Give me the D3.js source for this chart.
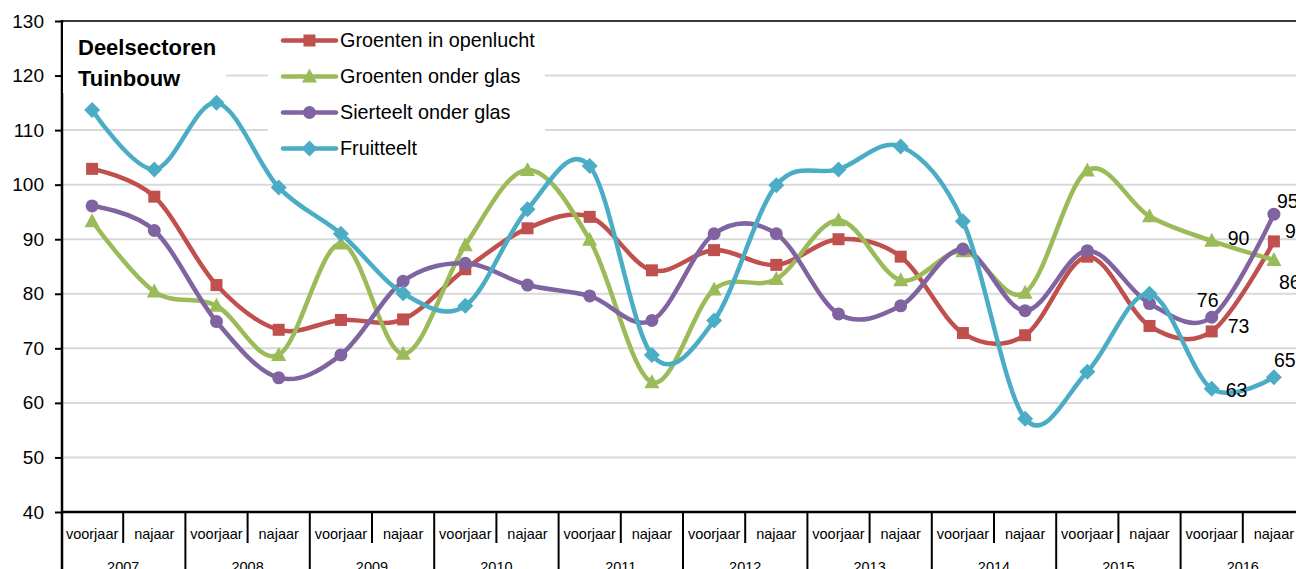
<!DOCTYPE html>
<html>
<head>
<meta charset="utf-8">
<script src="https://cdn.jsdelivr.net/npm/d3@7/dist/d3.min.js"></script>
<style>
  html, body { margin: 0; padding: 0; background: #fff; }
  svg { display: block; font-family: "Liberation Sans", Arial, sans-serif; }
</style>
</head>
<body>
<div id="chart"></div>
<script>
// categories: 10 years, two seasons each
var years = ['2007', '2008', '2009', '2010', '2011', '2012', '2013', '2014', '2015', '2016'];
var seasons = ['voorjaar', 'najaar'];
var yTicks = [40, 50, 60, 70, 80, 90, 100, 110, 120, 130];

// series values
var groentenOpenlucht = [102.9, 97.8, 81.6, 73.4, 75.2, 75.3, 84.5, 92.0, 94.1, 84.3,
                         88.0, 85.3, 90.0, 86.8, 72.8, 72.4, 86.8, 74.1, 73.1, 89.6];
var groentenGlas      = [93.3, 80.4, 77.8, 68.8, 89.2, 69.0, 88.9, 102.7, 89.9, 63.8,
                         80.8, 82.7, 93.5, 82.5, 87.8, 80.2, 102.6, 94.2, 89.7, 86.2];
var sierteeltGlas     = [96.1, 91.6, 74.9, 64.6, 68.8, 82.3, 85.6, 81.6, 79.6, 75.1,
                         91.0, 91.0, 76.3, 77.8, 88.2, 76.9, 87.9, 78.2, 75.7, 94.6];
var fruitteelt        = [113.7, 102.8, 115.0, 99.5, 91.0, 80.1, 77.8, 95.5, 103.4, 68.8,
                         75.1, 99.9, 102.8, 107.0, 93.3, 57.1, 65.7, 80.0, 62.6, 64.7];

var seriesNames = ['Groenten in openlucht', 'Groenten onder glas', 'Sierteelt onder glas', 'Fruitteelt'];
var seriesValues = [groentenOpenlucht, groentenGlas, sierteeltGlas, fruitteelt];
var seriesColors = ['#C0504D', '#9BBB59', '#8064A2', '#4BACC6'];
var seriesMarkers = ['square', 'triangle', 'circle', 'diamond'];

// data labels on the last two points: [series, point index, dx, dy, anchor]
var dataLabels = [
  [0, 18, 16, -5, 'start'], [0, 19, 11, -10, 'start'],
  [1, 18, 16, -3, 'start'], [1, 19, 5, 22, 'start'],
  [2, 18, -4, -17, 'middle'], [2, 19, 3, -13, 'start'],
  [3, 18, 14, 1, 'start'], [3, 19, 0, -17, 'start']
];

var W = 1296, H = 569;
var svg = d3.select('#chart').append('svg').attr('width', W).attr('height', H);

var cats = [];
years.forEach(function (yr) { seasons.forEach(function (s) { cats.push(yr + '|' + s); }); });

var x = d3.scaleBand().domain(cats).range([61, 1305]);
var y = d3.scaleLinear().domain([40, 130]).range([512, 21]);
var xc = function (i) { return x(cats[i]) + x.bandwidth() / 2; };

// gridlines
svg.append('g').selectAll('line').data(yTicks.filter(function (t) { return t > 40 && t < 130; }))
  .enter().append('line')
  .attr('x1', 62).attr('x2', W)
  .attr('y1', function (d) { return y(d); }).attr('y2', function (d) { return y(d); })
  .attr('stroke', '#D9D9D9').attr('stroke-width', 2);

// top border
svg.append('line').attr('x1', 62).attr('x2', W).attr('y1', y(130)).attr('y2', y(130))
  .attr('stroke', '#3a3a3a').attr('stroke-width', 2);

// y axis
var yAxis = d3.axisLeft(y).tickValues(yTicks).tickSize(7).tickPadding(11);
var gy = svg.append('g').attr('transform', 'translate(62,0)').call(yAxis);
gy.select('.domain').remove();
gy.selectAll('.tick line').attr('stroke', '#000').attr('stroke-width', 2);
gy.selectAll('.tick text').attr('font-size', 19).attr('fill', '#000')
  .attr('font-family', '"Liberation Sans", Arial, sans-serif');
svg.append('line').attr('x1', 62).attr('x2', 62).attr('y1', 20).attr('y2', H)
  .attr('stroke', '#000').attr('stroke-width', 2.5);

// x axis: line, separators, labels
svg.append('line').attr('x1', 61).attr('x2', W).attr('y1', 512).attr('y2', 512)
  .attr('stroke', '#000').attr('stroke-width', 2.5);
var gx = svg.append('g');
cats.forEach(function (c, i) {
  var bx = x(c);
  if (i > 0) {
    gx.append('line').attr('x1', bx).attr('x2', bx).attr('y1', 512)
      .attr('y2', i % 2 === 0 ? H : 543)
      .attr('stroke', '#000').attr('stroke-width', 2);
  }
  gx.append('text').attr('x', xc(i)).attr('y', 539).attr('text-anchor', 'middle')
    .attr('font-size', 14.5).attr('fill', '#000').text(c.split('|')[1]);
});
// year labels sit partly below the bottom edge, as in the reference
years.forEach(function (yr) {
  var mid = x(yr + '|voorjaar') + x.bandwidth();
  gx.append('text').attr('x', mid).attr('y', 572).attr('text-anchor', 'middle')
    .attr('font-size', 14.5).attr('fill', '#000').text(yr);
});

// markers
function drawMarker(g, type, cx, cy, color) {
  if (type === 'square') {
    g.append('rect').attr('x', cx - 6).attr('y', cy - 6).attr('width', 12).attr('height', 12).attr('fill', color);
  } else if (type === 'circle') {
    g.append('circle').attr('cx', cx).attr('cy', cy).attr('r', 6.5).attr('fill', color);
  } else if (type === 'triangle') {
    g.append('path').attr('d', 'M' + cx + ',' + (cy - 8) + 'L' + (cx + 7.5) + ',' + (cy + 6) + 'L' + (cx - 7.5) + ',' + (cy + 6) + 'Z').attr('fill', color);
  } else {
    g.append('path').attr('d', 'M' + cx + ',' + (cy - 8) + 'L' + (cx + 8) + ',' + cy + 'L' + cx + ',' + (cy + 8) + 'L' + (cx - 8) + ',' + cy + 'Z').attr('fill', color);
  }
}

var line = d3.line()
  .x(function (d, i) { return xc(i); })
  .y(function (d) { return y(d); })
  .curve(d3.curveCardinal.tension(0));

var gs = svg.append('g');
seriesValues.forEach(function (vals, k) {
  var g = gs.append('g');
  g.append('path').datum(vals).attr('d', line).attr('fill', 'none')
    .attr('stroke', seriesColors[k]).attr('stroke-width', 4.5).attr('stroke-linejoin', 'round');
  vals.forEach(function (v, i) { drawMarker(g, seriesMarkers[k], xc(i), y(v), seriesColors[k]); });
});

// data labels
dataLabels.forEach(function (l) {
  var v = seriesValues[l[0]][l[1]];
  svg.append('text').attr('x', xc(l[1]) + l[2]).attr('y', y(v) + l[3])
    .attr('dy', '0.35em').attr('text-anchor', l[4])
    .attr('font-size', 19.5).attr('fill', '#000').text(Math.round(v));
});

// title box
svg.append('rect').attr('x', 63).attr('y', 23).attr('width', 163).attr('height', 70).attr('fill', '#fff');
svg.append('text').attr('x', 78).attr('y', 55).attr('font-size', 22).attr('font-weight', 'bold').text('Deelsectoren');
svg.append('text').attr('x', 78).attr('y', 86).attr('font-size', 22).attr('font-weight', 'bold').text('Tuinbouw');

// legend
var lg = svg.append('g');
lg.append('rect').attr('x', 268).attr('y', 23).attr('width', 277).attr('height', 140).attr('fill', '#fff');
seriesNames.forEach(function (name, k) {
  var ly = 40.5 + k * 36;
  lg.append('line').attr('x1', 283).attr('x2', 336).attr('y1', ly).attr('y2', ly)
    .attr('stroke', seriesColors[k]).attr('stroke-width', 4.5).attr('stroke-linecap', 'round');
  drawMarker(lg, seriesMarkers[k], 309.5, ly, seriesColors[k]);
  lg.append('text').attr('x', 340).attr('y', ly).attr('dy', '0.35em')
    .attr('font-size', 19.8).attr('fill', '#000').text(name);
});
</script>
</body>
</html>
